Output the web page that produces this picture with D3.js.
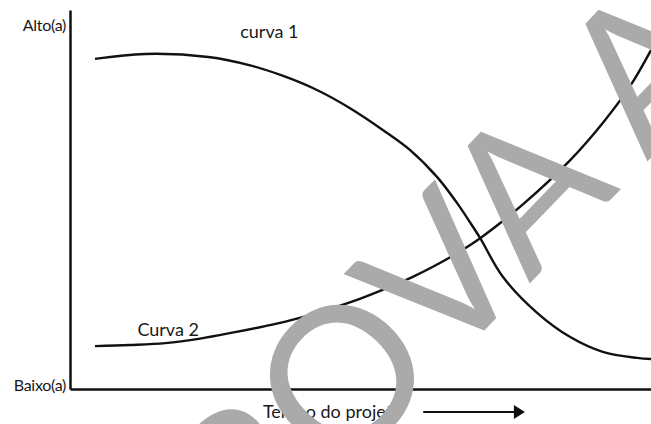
<!DOCTYPE html>
<html>
<head>
<meta charset="utf-8">
<script src="https://cdn.jsdelivr.net/npm/d3@7"></script>
<style>
	body { margin: 0; background: #fff; }
	svg { display: block; }
	text { font-family: Lato, "Open Sans", sans-serif; fill: #1a1a1a; }
</style>
</head>
<body>
<div id="chart"></div>
<script>
// tempo do projeto (0-100) e nivel (0-100)
var curva1Tempo = [4.3, 12.9, 23.8, 31.0, 36.7, 42.5, 48.2, 53.9, 58.5, 63.2, 66.6, 68.8, 70.6, 74.5, 80.4, 86.1, 91.7, 97.6, 100];
var curva1Nivel = [87.1, 88.4, 87.6, 85.4, 82.6, 78.9, 74.1, 68.3, 63.1, 55.9, 49.1, 44.1, 39.8, 29.6, 20.1, 13.7, 9.8, 8.2, 7.9];
var curva2Tempo = [4.3, 10.3, 16.4, 22.4, 28.4, 33.6, 37.9, 43.0, 49.4, 54.2, 59.0, 64.9, 70.6, 78.0, 86.1, 91.7, 96.4, 100];
var curva2Nivel = [11.3, 11.6, 12.1, 13.3, 15.0, 16.6, 18.1, 20.3, 23.5, 26.4, 29.6, 34.3, 39.8, 48.8, 60.4, 70.2, 79.9, 89.4];
var nivelTicks = [1, 96];
var nivelLabels = ["Baixo(a)", "Alto(a)"];
var curvaNomes = ["curva 1", "Curva 2"];
var curvaNomePos = [[29.3, 92.5], [11.6, 14]];
var eixoXTitulo = "Tempo do projeto";
var marcaAgua = "PROVA A";

var width = 651, height = 424;
var svg = d3.select("#chart").append("svg").attr("width", width).attr("height", height);

var x = d3.scaleLinear().domain([0, 100]).range([70, 651]);
var y = d3.scaleLinear().domain([0, 100]).range([389, 10]);

var yAxis = d3.axisLeft(y).tickValues(nivelTicks).tickSize(0).tickSizeOuter(0).tickPadding(4)
	.tickFormat(function(d, i){ return nivelLabels[i]; });
var gy = svg.append("g").attr("transform", "translate(" + x(0) + ",0)").call(yAxis);
gy.select(".domain").attr("stroke", "#111").attr("stroke-width", 2.5);
gy.selectAll("text").attr("font-family", "Lato").attr("font-size", 16).attr("fill", "#1a1a1a").style("letter-spacing", "-0.3px");

var xAxis = d3.axisBottom(x).ticks(0).tickSizeOuter(0);
var gx = svg.append("g").attr("transform", "translate(0," + y(0) + ")").call(xAxis);
gx.select(".domain").attr("stroke", "#111").attr("stroke-width", 2.5);

var line = d3.line().curve(d3.curveCatmullRom.alpha(0.5))
	.x(function(d){ return x(d[0]); })
	.y(function(d){ return y(d[1]); });

[[curva1Tempo, curva1Nivel], [curva2Tempo, curva2Nivel]].forEach(function(c){
	svg.append("path")
		.datum(d3.zip(c[0], c[1]))
		.attr("d", line)
		.attr("fill", "none")
		.attr("stroke", "#111")
		.attr("stroke-width", 2.4);
});

svg.selectAll(".nome").data(curvaNomes).enter().append("text")
	.attr("class", "nome")
	.attr("x", function(d, i){ return x(curvaNomePos[i][0]); })
	.attr("y", function(d, i){ return y(curvaNomePos[i][1]); })
	.attr("font-size", 18)
	.text(function(d){ return d; });

// titulo do eixo x com seta
svg.append("text")
	.attr("x", x(33.2)).attr("y", 418)
	.attr("font-family", "Open Sans")
	.attr("font-size", 18)
	.text(eixoXTitulo);
svg.append("line")
	.attr("x1", x(60.8)).attr("x2", x(77.5))
	.attr("y1", 412).attr("y2", 412)
	.attr("stroke", "#111").attr("stroke-width", 2);
svg.append("path")
	.attr("d", d3.line()([[x(76.4), 405], [x(78.3), 412], [x(76.4), 419]]) + "Z")
	.attr("fill", "#111");

// marca d'agua
svg.append("text")
	.attr("transform", "translate(172,654) rotate(-46)")
	.attr("font-family", "Liberation Sans, Arial, sans-serif")
	.attr("font-size", 196)
	.style("fill", "#aaaaaa")
	.text(marcaAgua);
</script>
</body>
</html>
